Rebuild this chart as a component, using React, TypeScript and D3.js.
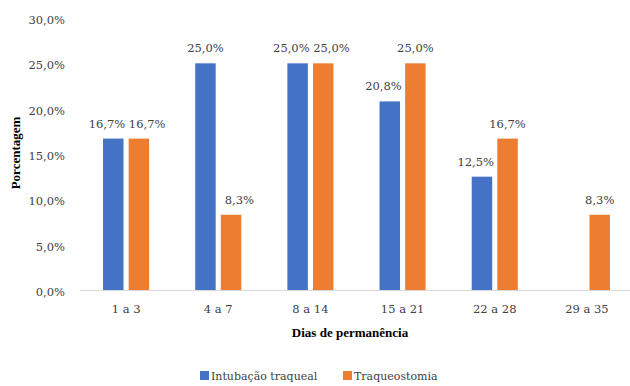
import React from "react";
import * as d3 from "d3";

const categories = ["1 a 3", "4 a 7", "8 a 14", "15 a 21", "22 a 28", "29 a 35"];
const intubacao: (number | null)[] = [16.7, 25.0, 25.0, 20.8, 12.5, null];
const traqueostomia: (number | null)[] = [16.7, 8.3, 25.0, 25.0, 16.7, 8.3];
const seriesNames = ["Intubação traqueal", "Traqueostomia"];
const yTicks = [0, 5, 10, 15, 20, 25, 30];

const colors = ["#4472C4", "#ED7D31"];
const font = "'Liberation Serif', 'Times New Roman', serif";
const regularFont = "'DejaVu Serif', 'Liberation Serif', serif";
const textStyle = { fontFamily: regularFont, fontWeight: 400 };
const boldStyle = { fontFamily: font, fontWeight: 700 };

const fmt = (v: number) => v.toFixed(1).replace(".", ",") + "%";

export default function App() {
  const W = 630, H = 386;
  const left = 80, right = 633, top = 18, bottom = 290;
  const x = d3.scaleBand<string>().domain(categories).range([left, right]).paddingInner(0.5).paddingOuter(0.25);
  const y = d3.scaleLinear().domain([0, 30]).range([bottom, top]);
  const inner = d3.scaleBand<number>().domain([0, 1]).range([0, x.bandwidth()]).paddingInner(0.2);
  const series = [intubacao, traqueostomia];
  const labelHalf = 18.5;
  const bw = inner.bandwidth();
  const fs = 11.5;

  // nudge a label sideways when the neighbouring bar reaches its height
  const labelShift = (si: number, i: number) => {
    const own = series[si][i];
    const other = series[1 - si][i];
    if (own == null || other == null || other < own) return 0;
    const push = labelHalf - bw / 2;
    return si === 0 ? -(push - 2) : push;
  };

  return (
    <svg width={W} height={H} style={{ position: "absolute", left: 0, top: 0 }}>
      <rect width={W} height={H} fill="#fff" />
      {yTicks.map((t) => (
        <text key={t} x={65} y={y(t) + 2} dy="0.35em" textAnchor="end" fontSize={fs} fill="#404040" style={textStyle}>
          {fmt(t)}
        </text>
      ))}
      {series.map((vals, si) =>
        vals.map((v, i) =>
          v == null ? null : (
            <g key={`${si}-${i}`}>
              <rect
                x={(x(categories[i]) as number) + (inner(si) as number)}
                y={y(v)}
                width={bw}
                height={bottom - y(v)}
                fill={colors[si]}
              />
              <text
                x={(x(categories[i]) as number) + (inner(si) as number) + bw / 2 + labelShift(si, i)}
                y={y(v) - 11}
                textAnchor="middle"
                fontSize={fs}
                fill="#404040"
                style={textStyle}
              >
                {fmt(v)}
              </text>
            </g>
          )
        )
      )}
      <line x1={left} x2={W} y1={bottom + 0.5} y2={bottom + 0.5} stroke="#d9d9d9" strokeWidth={1} />
      {categories.map((c) => (
        <text key={c} x={(x(c) as number) + x.bandwidth() / 2} y={309} dy="0.35em" textAnchor="middle" fontSize={fs} fill="#404040" style={textStyle}>
          {c}
        </text>
      ))}
      <text x={(left + 620) / 2} y={332} dy="0.35em" textAnchor="middle" fontSize={13} fill="#000" style={boldStyle}>
        Dias de permanência
      </text>
      <text transform={`translate(15, 153) rotate(-90)`} dy="0.35em" textAnchor="middle" fontSize={13} fill="#000" style={boldStyle}>
        Porcentagem
      </text>
      {seriesNames.map((n, i) => {
        const lx = i === 0 ? 200 : 343;
        return (
          <g key={n}>
            <rect x={lx} y={371} width={9} height={9} fill={colors[i]} />
            <text x={lx + 11} y={376} dy="0.35em" fontSize={11} fill="#404040" style={textStyle}>
              {n}
            </text>
          </g>
        );
      })}
    </svg>
  );
}
